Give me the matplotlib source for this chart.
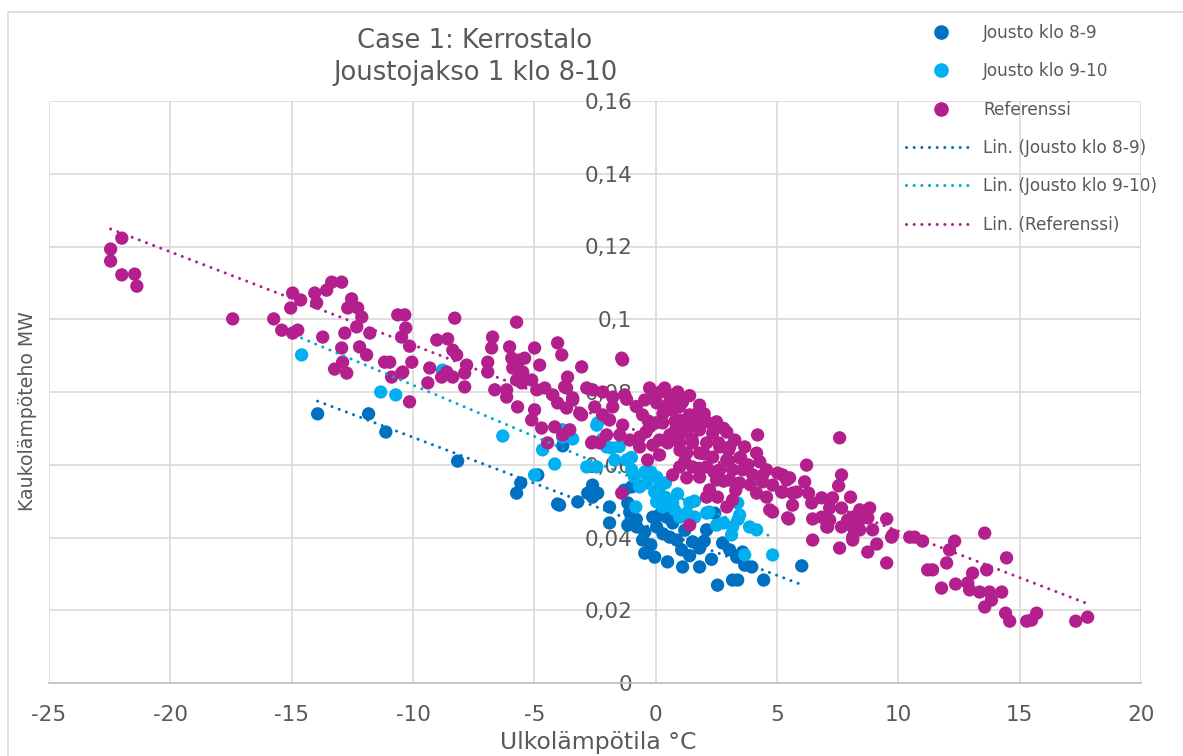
import numpy as np
import matplotlib
matplotlib.use('Agg')
import matplotlib.pyplot as plt
from matplotlib.lines import Line2D
from matplotlib.patches import Rectangle

#--------------------------------------------------#
title = 'Case 1: Kerrostalo\nJoustojakso 1 klo 8-10'
xlabel = 'Ulkolämpötila °C'
ylabel = 'Kaukolämpöteho MW'
xticks = [-25, -20, -15, -10, -5, 0, 5, 10, 15, 20]
yticks = [0, 0.02, 0.04, 0.06, 0.08, 0.1, 0.12, 0.14, 0.16]
yticklabels = ['0', '0,02', '0,04', '0,06', '0,08', '0,1', '0,12', '0,14', '0,16']

names = ['Jousto klo 8-9', 'Jousto klo 9-10', 'Referenssi']
colors = ['#0070C0', '#00B0F0', '#B41F8E']
trendcolors = ['#0070C0', '#00A8D6', '#B41F8E']

#Jousto klo 8-9 (outdoor temp degC, heat MW)
x_8_9 = [-13.93, -11.83, -11.12, -8.16, -5.56, -5.73, -4.86, -4.04, -3.21, -3.83,
         -2.60, -2.80, -2.39, -2.60, -1.90, -1.90, -1.15, -1.07, -1.15, -0.54,
         -0.45, -0.45, -0.12, 0.16, 0.45, 0.04, -0.04, 0.49, 0.58, 0.87,
         1.07, 1.11, 1.52, 1.81, 1.81, 2.10, 2.43, 2.76, 3.05, 3.34,
         3.58, 3.67, 3.96, 3.17, 3.38, 2.55, 4.45, 6.02, -0.78, -0.99, -3.96,
         0.30, 0.70, 1.20, -0.20, 1.40, 2.30, 2.00, -0.80, -1.30]
y_8_9 = [0.0740, 0.0740, 0.0690, 0.0610, 0.0550, 0.0522, 0.0572, 0.0492, 0.0498, 0.0652,
         0.0544, 0.0522, 0.0522, 0.0511, 0.0484, 0.0440, 0.0495, 0.0470, 0.0434, 0.0393,
         0.0357, 0.0415, 0.0456, 0.0462, 0.0456, 0.0429, 0.0346, 0.0333, 0.0401, 0.0393,
         0.0366, 0.0319, 0.0388, 0.0371, 0.0319, 0.0421, 0.0467, 0.0385, 0.0366, 0.0346,
         0.0360, 0.0324, 0.0319, 0.0283, 0.0283, 0.0269, 0.0283, 0.0322, 0.0429, 0.0539, 0.0489,
         0.0410, 0.0440, 0.0420, 0.0380, 0.0350, 0.0340, 0.0390, 0.0450, 0.0530]

#Jousto klo 9-10
x_9_10 = [-14.59, -11.33, -10.71, -6.30, -4.66, -4.16, -4.99, -3.83, -3.42, -8.78,
          -2.43, -2.02, -2.39, -3.83, -2.84, -2.43, -1.81, -1.69, -1.19, -0.99,
          -0.87, -0.45, -0.37, -0.66, 0.04, 0.16, -0.04, 0.37, 0.04, 0.70,
          0.29, 0.78, 0.99, 1.28, 1.61, 2.10, 2.51, 3.17, 3.13, 3.46,
          3.38, 3.87, 4.16, 3.67, 4.82, 1.40, -0.82,
          -0.20, 0.40, 0.90, 1.60, 2.20, -1.00, -1.50, 2.80, 3.40, -2.20]
y_9_10 = [0.0902, 0.0800, 0.0792, 0.0679, 0.0641, 0.0602, 0.0572, 0.0696, 0.0671, 0.0860,
          0.0709, 0.0649, 0.0715, 0.0676, 0.0594, 0.0594, 0.0646, 0.0613, 0.0613, 0.0586,
          0.0566, 0.0580, 0.0550, 0.0539, 0.0566, 0.0539, 0.0525, 0.0511, 0.0498, 0.0495,
          0.0484, 0.0476, 0.0456, 0.0467, 0.0456, 0.0467, 0.0434, 0.0429, 0.0407, 0.0462,
          0.0495, 0.0429, 0.0421, 0.0352, 0.0352, 0.0495, 0.0484,
          0.0580, 0.0550, 0.0520, 0.0500, 0.0470, 0.0620, 0.0650, 0.0440, 0.0450, 0.0670]

#Referenssi
x_ref = [-22.46, -22.46, -22.00, -22.00, -21.47, -21.38, -17.43, -15.74, -15.41, -14.96,
         -14.75, -15.04, -14.96, -14.63, -14.05, -13.97, -13.56, -13.35, -12.94, -12.53,
         -12.69, -12.28, -12.11, -12.32, -12.81, -11.78, -13.72, -12.94, -12.20, -11.91,
         -12.90, -13.23, -12.73, -11.17, -10.96, -10.88, -10.47, -10.63, -10.34, -10.47,
         -10.30, -10.14, -10.05, -10.42, -10.14, -8.28, -9.02, -8.57, -8.36, -8.20,
         -9.31, -9.39, -8.82, -8.36, -7.79, -7.87, -7.87, -8.61, -5.73, -6.72,
         -6.76, -6.92, -6.92, -6.63, -6.02, -5.93, -5.60, -5.40, -5.89, -5.48,
         -5.73, -6.14, -6.14, -5.69, -5.52, -5.11, -4.99, -4.78, -4.57, -4.90,
         -4.99, -5.11, -4.04, -3.87, -3.05, -3.63, -3.67, -4.24, -4.04, -3.42,
         -3.67, -3.05, -4.70, -4.16, -3.83, -2.84, -2.51, -2.18, -1.77, -1.40,
         -2.64, -2.31, -4.45,
         -3.75, -3.42, -3.13, -2.60, -2.18, -1.77, -1.28, -1.36, -0.25, 0.37,
         0.91, 0.04, -0.54, -0.25, 0.45, 1.11, 1.81, 1.73, 0.99, 0.29,
         0.58, 0.16, -0.12, -0.66, -1.07, -1.48, -2.02, -2.60, -1.90, -1.36,
         -0.66, 1.40, 1.81, 2.10, 2.51, 2.35, 2.93, 3.26, 4.20, 3.67,
         3.05, 2.64, 2.10, 1.52, 0.99, 1.28, 1.81, 2.35, 2.93, 3.46,
         4.16, 4.29, 4.57, 5.03, 5.52, 6.22, 6.14, 5.64, 5.19, 4.82,
         4.41, 4.00, 3.58, 3.17, 2.64, 2.10, 1.52, 0.99, 0.70, 1.28,
         1.81, 2.51, 3.05, 3.46, 2.22, 2.10, 2.55, 2.93, 3.17, 4.16,
         4.57, 4.70, 4.82, 5.44, 6.43, 7.58, 6.47, 7.58, 7.05, 8.12,
         8.12, 1.40, -1.40, -3.54, -0.04, 0.58, -0.45, 1.40, 0.82, 0.16,
         -0.33, 0.70, 1.20, 2.80, 0.40,
         0.20, 0.60, 1.00, 1.40, 0.30, 0.80, 1.20, 1.60, 2.00, 2.40,
         0.50, 1.00, 1.50, 2.00, 2.60, 3.00, 3.50, 1.20, 1.80, 2.40,
         3.00, 3.80, -0.30, -0.80, -1.20, -0.40, 0.00, 0.90, 2.80, 3.30,
         3.90, 4.40,
         7.66, 5.23, 5.40, 5.23, 5.81, 6.30, 7.54, 8.03, 6.84, 7.29,
         5.64, 7.17, 7.66, 8.41, 8.82, 5.48, 6.47, 6.84, 7.17, 7.91,
         8.41, 8.74, 9.52, 7.09, 7.66, 8.12, 8.94, 8.41, 9.77, 9.72,
         8.12, 9.11, 8.74, 9.52, 10.47, 10.67, 11.00, 12.32, 12.11, 13.56,
         14.46, 11.99, 11.21, 11.41, 13.06, 13.64, 11.78, 12.36, 12.86, 12.94,
         13.35, 13.76, 14.26, 13.84, 13.56, 14.42, 14.59, 15.29, 15.49, 15.70,
         17.31, 17.80]
y_ref = [0.1193, 0.1160, 0.1223, 0.1122, 0.1124, 0.1091, 0.1001, 0.1001, 0.0970, 0.0962,
         0.0970, 0.1031, 0.1072, 0.1053, 0.1072, 0.1045, 0.1080, 0.1102, 0.1102, 0.1056,
         0.1031, 0.1031, 0.1006, 0.0979, 0.0962, 0.0962, 0.0951, 0.0921, 0.0924, 0.0902,
         0.0882, 0.0863, 0.0852, 0.0882, 0.0882, 0.0841, 0.0852, 0.1012, 0.1012, 0.0951,
         0.0976, 0.0926, 0.0882, 0.0855, 0.0773, 0.1003, 0.0943, 0.0946, 0.0915, 0.0902,
         0.0866, 0.0825, 0.0841, 0.0841, 0.0874, 0.0852, 0.0814, 0.0855, 0.0992, 0.0951,
         0.0921, 0.0882, 0.0855, 0.0806, 0.0924, 0.0893, 0.0888, 0.0893, 0.0866, 0.0855,
         0.0833, 0.0806, 0.0786, 0.0759, 0.0825, 0.0833, 0.0921, 0.0874, 0.0811, 0.0806,
         0.0751, 0.0723, 0.0935, 0.0902, 0.0869, 0.0841, 0.0811, 0.0792, 0.0770, 0.0784,
         0.0756, 0.0737, 0.0701, 0.0704, 0.0682, 0.0811, 0.0759, 0.0737, 0.0759, 0.0893,
         0.0660, 0.0660, 0.0660,
         0.0814, 0.0778, 0.0742, 0.0806, 0.0800, 0.0786, 0.0792, 0.0888, 0.0811, 0.0811,
         0.0800, 0.0770, 0.0737, 0.0704, 0.0759, 0.0773, 0.0764, 0.0742, 0.0723, 0.0715,
         0.0682, 0.0668, 0.0654, 0.0649, 0.0668, 0.0682, 0.0682, 0.0663, 0.0723, 0.0709,
         0.0676, 0.0704, 0.0696, 0.0718, 0.0718, 0.0687, 0.0690, 0.0668, 0.0682, 0.0649,
         0.0649, 0.0649, 0.0660, 0.0660, 0.0660, 0.0632, 0.0632, 0.0621, 0.0613, 0.0619,
         0.0632, 0.0608, 0.0586, 0.0577, 0.0564, 0.0599, 0.0553, 0.0522, 0.0525, 0.0544,
         0.0553, 0.0572, 0.0586, 0.0586, 0.0586, 0.0594, 0.0594, 0.0594, 0.0572, 0.0564,
         0.0566, 0.0558, 0.0558, 0.0550, 0.0531, 0.0511, 0.0511, 0.0484, 0.0503, 0.0522,
         0.0511, 0.0476, 0.0470, 0.0454, 0.0495, 0.0674, 0.0393, 0.0371, 0.0429, 0.0456,
         0.0393, 0.0434, 0.0522, 0.0696, 0.0792, 0.0792, 0.0778, 0.0737, 0.0696, 0.0627,
         0.0613, 0.0750, 0.0690, 0.0700, 0.0760,
         0.0800, 0.0780, 0.0760, 0.0790, 0.0740, 0.0720, 0.0700, 0.0720, 0.0740, 0.0700,
         0.0660, 0.0640, 0.0670, 0.0630, 0.0660, 0.0640, 0.0620, 0.0610, 0.0590, 0.0580,
         0.0610, 0.0600, 0.0720, 0.0760, 0.0780, 0.0690, 0.0715, 0.0685, 0.0555, 0.0530,
         0.0545, 0.0570,
         0.0572, 0.0572, 0.0558, 0.0525, 0.0525, 0.0522, 0.0542, 0.0511, 0.0509, 0.0509,
         0.0489, 0.0481, 0.0481, 0.0476, 0.0481, 0.0451, 0.0451, 0.0456, 0.0448, 0.0448,
         0.0448, 0.0454, 0.0451, 0.0429, 0.0429, 0.0429, 0.0421, 0.0421, 0.0407, 0.0401,
         0.0401, 0.0382, 0.0360, 0.0330, 0.0401, 0.0401, 0.0390, 0.0390, 0.0366, 0.0412,
         0.0344, 0.0330, 0.0311, 0.0311, 0.0302, 0.0311, 0.0261, 0.0272, 0.0275, 0.0256,
         0.0250, 0.0250, 0.0250, 0.0228, 0.0209, 0.0192, 0.0170, 0.0170, 0.0173, 0.0192,
         0.0170, 0.0181]
#--------------------------------------------------#

textcolor = '#595959'
gridcolor = '#D9D9D9'

fig = plt.figure(figsize=(11.83, 7.56), dpi=100)
fig.patches.append(Rectangle((8/1183, -0.1), 1.2, 1.1 - 12/756, transform=fig.transFigure,
                             facecolor='none', edgecolor=gridcolor, linewidth=1.2, zorder=0))
ax = fig.add_axes([49/1183, 1 - 683/756, 1092/1183, 582/756])

series = [(x_8_9, y_8_9), (x_9_10, y_9_10), (x_ref, y_ref)]
for i, (xs, ys) in enumerate(series):
    ax.scatter(xs, ys, s=92, color=colors[i], edgecolors='none', zorder=2.1 + 0.1 * i, clip_on=False)

#Linear trendlines like Excel's "Lin." series
for i, (xs, ys) in enumerate(series):
    k, b = np.polyfit(xs, ys, 1)
    xl = np.array([min(xs), max(xs)])
    ax.plot(xl, k * xl + b, color=trendcolors[i], linewidth=2.2, linestyle=(0, (0.01, 2.5)),
            dash_capstyle='round', zorder=2.45)

ax.set_xlim(-25, 20)
ax.set_ylim(0, 0.16)
ax.set_xticks(xticks)
ax.set_xticklabels([str(t) for t in xticks])
ax.set_yticks(yticks)
ax.set_yticklabels(yticklabels)
ax.grid(True, color=gridcolor, linewidth=1.2)
ax.set_axisbelow(True)
for s in ['top', 'right', 'left']:
    ax.spines[s].set_visible(False)
ax.spines['bottom'].set_color('#BFBFBF')
ax.spines['bottom'].set_linewidth(1.2)
ax.spines['left'].set_position(('data', 0))  #y labels sit at x = 0 like in Excel
ax.tick_params(axis='both', length=0, labelsize=15.5, labelcolor=textcolor)
ax.tick_params(axis='y', pad=17)
ax.tick_params(axis='x', pad=16)

fig.text(598/1183, 1 - 742/756, xlabel, ha='center', va='center', fontsize=16.9, color=textcolor)
fig.text(28/1183, 1 - 411/756, ylabel, ha='center', va='center', rotation=90, fontsize=13.6, color=textcolor)
fig.text(475/1183, 1 - 57/756, title, ha='center', va='center', fontsize=18.6, color=textcolor,
         linespacing=1.3)

handles = [Line2D([], [], linestyle='none', marker='o', markersize=9.5, color=c) for c in colors]
handles += [Line2D([], [], color=c, linewidth=2.2, linestyle=(0, (0.01, 2.5)), dash_capstyle='round')
            for c in trendcolors]
labels = names + ['Lin. (' + n + ')' for n in names]
fig.legend(handles, labels, loc='upper left', bbox_to_anchor=(906/1183, 1 - 24/756), frameon=False,
           fontsize=12.2, labelcolor=textcolor, handlelength=4.1, handletextpad=0.45,
           labelspacing=1.2, borderpad=0, borderaxespad=0)

fig.savefig('out.png', dpi=100)
